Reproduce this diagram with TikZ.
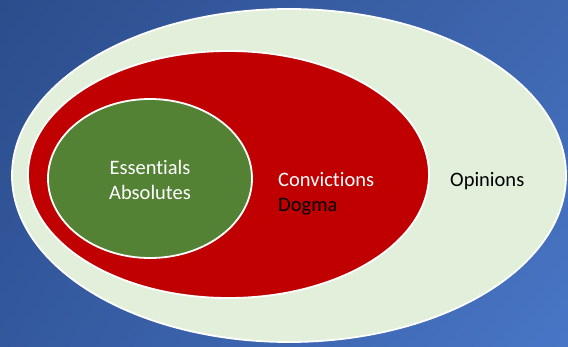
\documentclass[tikz,border=0pt]{standalone}
\usepackage{fontspec}
\usetikzlibrary{shadings}
\setmainfont[Ligatures={NoCommon}]{Carlito}
\definecolor{bgtl}{HTML}{2C4D8C}
\definecolor{bgtr}{HTML}{3F67B0}
\definecolor{bgbl}{HTML}{33589D}
\definecolor{bgbr}{HTML}{4876C6}
\definecolor{opgreen}{HTML}{E2EFDA}
\definecolor{convred}{HTML}{C00000}
\definecolor{essgreen}{HTML}{548235}
\begin{document}
\begin{tikzpicture}[x=1pt,y=-1pt,
  ring/.style={draw=white,line width=1.8pt},
  lbl/.style={font=\fontsize{20.5}{25}\selectfont,inner sep=0pt,anchor=base west}]
\useasboundingbox (0,0) rectangle (568,347);
\begin{scope}[y=1pt]
\shade[upper left=bgtl,upper right=bgtr,lower left=bgbl,lower right=bgbr] (0,-347) rectangle (568,0);
\end{scope}
\path[ring,fill=opgreen] (289,175.5) ellipse [x radius=277,y radius=166.5];
\path[ring,fill=convred] (228.5,174.5) ellipse [x radius=200.5,y radius=123.5];
\path[ring,fill=essgreen] (150,178.5) ellipse [x radius=102,y radius=79.5];
\node[lbl,anchor=base,text=white] (ess) at (150,175) {Essentials};
\node[lbl,anchor=base,text=white] (abs) at (150,200) {Absolutes};
\node[lbl,text=white] (conv) at (278,187) {Convictions};
\node[lbl,text=black] (dog) at (278,212) {Dogma};
\node[lbl,text=black] (op) at (450,187) {Opinions};
\end{tikzpicture}
\end{document}
